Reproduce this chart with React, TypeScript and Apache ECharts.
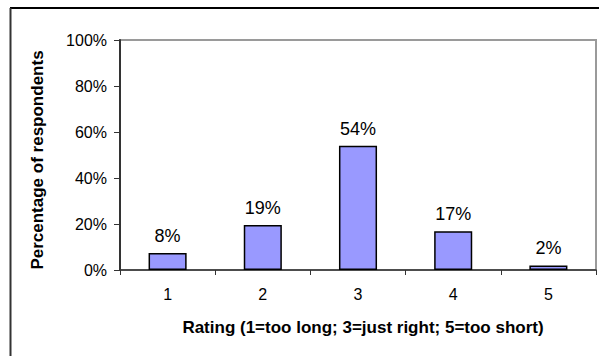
import React, { useEffect, useRef } from "react";
import * as echarts from "echarts";

const categories = ["1", "2", "3", "4", "5"];
const values = [7.4, 19.6, 54.0, 16.8, 2.0];
const valueLabels = ["8%", "19%", "54%", "17%", "2%"];
const yTicks = [0, 20, 40, 60, 80, 100];
const xTitle = "Rating (1=too long; 3=just right; 5=too short)";
const yTitle = "Percentage of respondents";

const FONT = "'Liberation Sans', Arial, sans-serif";

export default function App() {
  const ref = useRef<HTMLDivElement>(null);
  useEffect(() => {
    if (!ref.current) return;
    const chart = echarts.init(ref.current, null, { renderer: "svg" });
    chart.setOption({
      animation: false,
      backgroundColor: "#ffffff",
      textStyle: { fontFamily: FONT },
      grid: {
        left: 120,
        right: 3,
        top: 40,
        bottom: 86,
        show: true,
        borderColor: "#9a9a9a",
        borderWidth: 2,
        backgroundColor: "transparent",
      },
      xAxis: {
        type: "category",
        data: categories,
        axisLine: { lineStyle: { color: "#333", width: 1.5 } },
        axisTick: { show: true, length: 5, alignWithLabel: false, lineStyle: { color: "#333" } },
        axisLabel: { color: "#000", fontSize: 16, margin: 16, fontFamily: FONT },
        splitLine: { show: false },
      },
      yAxis: {
        type: "value",
        min: 0,
        max: 100,
        interval: 20,
        axisLine: { show: true, lineStyle: { color: "#333", width: 2 } },
        axisTick: { show: true, length: 6, lineStyle: { color: "#333" } },
        axisLabel: {
          color: "#000",
          fontSize: 16,
          margin: 13,
          fontFamily: FONT,
          formatter: (v: number) => (yTicks.includes(v) ? v + "%" : ""),
        },
        splitLine: { show: false },
      },
      series: [
        {
          type: "bar",
          data: values,
          barWidth: "40%",
          itemStyle: { color: "#9999ff", borderColor: "#000", borderWidth: 1.5 },
          label: {
            show: true,
            position: "top",
            distance: 8,
            color: "#000",
            fontSize: 18,
            fontFamily: FONT,
            formatter: (p: any) => valueLabels[p.dataIndex],
          },
        },
      ],
      graphic: [
        {
          type: "line",
          shape: { x1: 10, y1: 8, x2: 599, y2: 8 },
          style: { stroke: "#000", lineWidth: 2 },
        },
        {
          type: "line",
          shape: { x1: 10.5, y1: 8, x2: 10.5, y2: 356 },
          style: { stroke: "#333", lineWidth: 2 },
        },
        {
          type: "text",
          x: 37,
          y: 160,
          rotation: Math.PI / 2,
          style: {
            text: yTitle,
            fill: "#000",
            font: "bold 17px " + FONT,
            align: "center",
            verticalAlign: "middle",
          },
        },
        {
          type: "text",
          x: 363,
          y: 327,
          style: {
            text: xTitle,
            fill: "#000",
            font: "bold 17px " + FONT,
            align: "center",
            verticalAlign: "middle",
          },
        },
      ],
    });
    return () => chart.dispose();
  }, []);
  return <div ref={ref} style={{ width: 599, height: 356, position: "absolute", left: 0, top: 0 }} />;
}
